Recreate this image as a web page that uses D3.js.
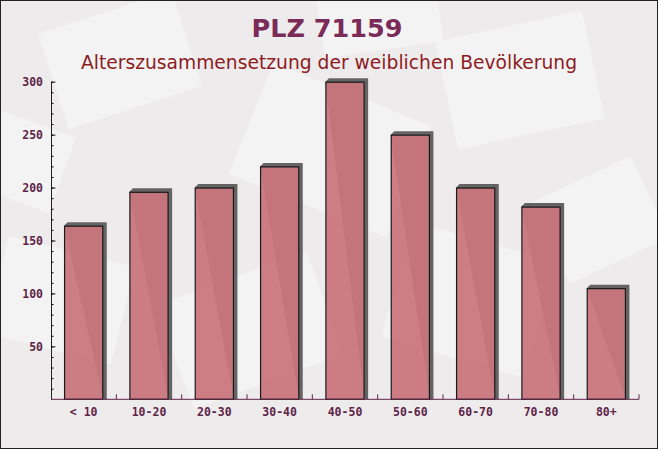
<!DOCTYPE html>
<html>
<head>
<meta charset="utf-8">
<script src="https://cdn.jsdelivr.net/npm/d3@7"></script>
<style>
  html, body { margin: 0; padding: 0; background: #fff; }
  svg { display: block; }
</style>
</head>
<body>
<script>
// ---- data ----
const categories = ["< 10", "10-20", "20-30", "30-40", "40-50", "50-60", "60-70", "70-80", "80+"];
const values = [164, 196, 200, 220, 300, 250, 200, 182, 105];
const yTickValues = [50, 100, 150, 200, 250, 300];
const yMinorTickValues = d3.range(10, 301, 10);
const titleText = "PLZ 71159";
const subtitleText = "Alterszusammensetzung der weiblichen Bevölkerung";

const W = 658, H = 449;
const svg = d3.select("body").append("svg").attr("width", W).attr("height", H);

// ---- background ----
svg.append("rect").attr("width", W).attr("height", H).attr("fill", "#eeebed");
const deco = svg.append("g").attr("fill", "#f6f5f5");
const shapes = [
  [120, 60, 140, 100, -18], [330, 150, 170, 120, 22], [520, 80, 150, 110, -12],
  [60, 300, 130, 100, 14], [250, 330, 160, 110, -20], [470, 300, 150, 120, 16],
  [600, 220, 110, 90, -25], [20, 160, 90, 80, 20], [380, 20, 120, 60, -8]
];
shapes.forEach(s => {
  deco.append("rect").attr("x", -s[2] / 2).attr("y", -s[3] / 2)
    .attr("width", s[2]).attr("height", s[3])
    .attr("transform", `translate(${s[0]},${s[1]}) rotate(${s[4]})`)
    .attr("opacity", 0.75);
});

// ---- scales ----
const x = d3.scaleBand().domain(categories).range([51, 639]).paddingInner(0.4).paddingOuter(0.2);
const y = d3.scaleLinear().domain([0, 300]).range([399.3, 81.7]);

// ---- bars with 3D shadow ----
const off = 3.5;
const g = svg.append("g");
categories.forEach((c, i) => {
  const x0 = x(c), x1 = x(c) + x.bandwidth(), y0 = y(values[i]), yb = y(0);
  g.append("path")
    .attr("d", `M${x0},${y0} L${x0 + off},${y0 - off} L${x1 + off},${y0 - off} L${x1 + off},${yb} L${x1},${yb} Z`)
    .attr("fill", "#555555").attr("opacity", 0.9);
  g.append("rect")
    .attr("x", x0 + 0.5).attr("y", y0 + 0.5)
    .attr("width", x.bandwidth() - 1).attr("height", yb - y0 - 0.5)
    .attr("fill", "#c9767c").attr("fill-opacity", 0.94)
    .attr("stroke", "#1a1a1a").attr("stroke-width", 1.2);
});

// ---- axes ----
const labelColor = "#5e2548";
const yAxis = svg.append("g").attr("transform", "translate(51,0)")
  .call(d3.axisLeft(y).tickValues(yTickValues).tickSizeInner(-4.5).tickSizeOuter(0).tickPadding(8));
svg.append("g").attr("transform", "translate(51,0)")
  .call(d3.axisLeft(y).tickValues(yMinorTickValues).tickSizeInner(-2.5).tickSizeOuter(0).tickFormat(""))
  .select(".domain").remove();
yAxis.select(".domain").attr("stroke", "#222");
yAxis.selectAll(".tick line").attr("stroke", "#222");
yAxis.selectAll("text").attr("fill", labelColor)
  .style("font-family", "'DejaVu Sans Mono', monospace").style("font-weight", "bold").style("font-size", "11.5px");

const xAxis = svg.append("g").attr("transform", `translate(0,${y(0)})`)
  .call(d3.axisBottom(x).tickSize(0).tickPadding(9));
xAxis.select(".domain").attr("stroke", "#5e2548").attr("d", `M51,0H639`);
xAxis.selectAll("text").attr("fill", labelColor)
  .style("font-family", "'DejaVu Sans Mono', monospace").style("font-weight", "bold").style("font-size", "11.5px");

const boundaries = categories.map(c => x(c) + x.bandwidth() + x.step() * x.paddingInner() / 2);
svg.append("g").selectAll("line").data(boundaries).join("line")
  .attr("x1", d => d).attr("x2", d => d)
  .attr("y1", y(0)).attr("y2", y(0) - 5)
  .attr("stroke", "#5e2548");

// ---- titles ----
svg.append("text").attr("x", 327).attr("y", 37).attr("text-anchor", "middle")
  .style("font-family", "'DejaVu Sans', sans-serif").style("font-weight", "bold").style("font-size", "25.5px")
  .attr("fill", "#7a2b58").text(titleText);
svg.append("text").attr("x", 329).attr("y", 69).attr("text-anchor", "middle")
  .style("font-family", "'DejaVu Sans', sans-serif").style("font-size", "18.7px")
  .attr("fill", "#8e1b22").text(subtitleText);

// ---- frame ----
svg.append("rect").attr("x", 0.5).attr("y", 0.5).attr("width", W - 1).attr("height", H - 1)
  .attr("fill", "none").attr("stroke", "#222");
</script>
</body>
</html>
